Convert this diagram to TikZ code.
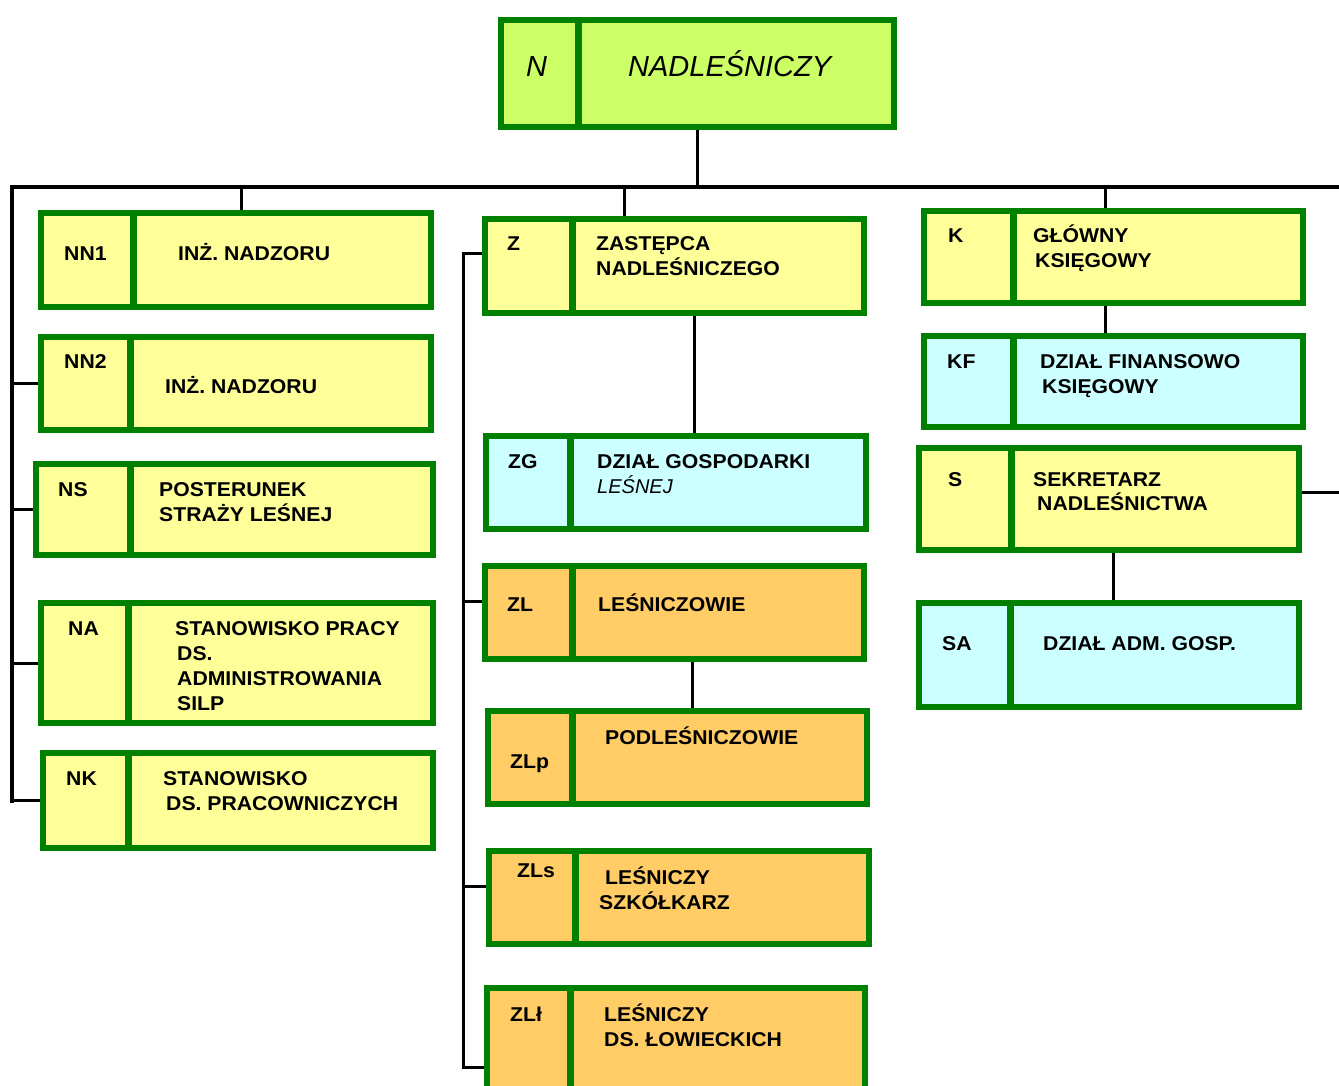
\documentclass[tikz,border=0pt]{standalone}
\usepackage{fontspec}
\setmainfont{Liberation Sans}[BoldFeatures={FakeStretch=1.06}]
\usetikzlibrary{calc}
\definecolor{grn}{HTML}{008000}
\definecolor{lime}{HTML}{CCFF66}
\definecolor{yel}{HTML}{FFFF99}
\definecolor{cyn}{HTML}{CCFFFF}
\definecolor{org}{HTML}{FFCC66}
\newcommand\orgbox[7]{%
  \node[orgframe, fill=#7, minimum width={(#4-#2-6)*1pt}, minimum height={(#5-#3-6)*1pt}]
    (#1) at ({(#2+#4)/2},{(#3+#5)/2}) {};
  \draw[divider] ({#6},{#3+3}) -- ({#6},{#5-3});
}
\begin{document}
\begin{tikzpicture}[x=1pt,y=-1pt,
  orgframe/.style={draw=grn, line width=6.5pt, rectangle, inner sep=0pt},
  divider/.style={draw=grn, line width=7pt},
  conn/.style={draw=black, line width=3pt},
  lab/.style={anchor=base west, inner sep=0pt, font=\fontsize{20}{24}\selectfont\bfseries},
  ital/.style={anchor=base west, inner sep=0pt, font=\fontsize{20}{24}\selectfont\itshape},
  big/.style={anchor=base west, inner sep=0pt, font=\fontsize{29}{34}\selectfont\itshape}]
\useasboundingbox (0,0) rectangle (1339,1086);
\fill[white] (0,0) rectangle (1339,1086);

% boxes
\orgbox{n}{498}{17}{897}{130}{578}{lime}
\orgbox{nn1}{38}{210}{434}{310}{133}{yel}
\orgbox{nn2}{38}{334}{434}{433}{130}{yel}
\orgbox{ns}{33}{461}{436}{558}{130}{yel}
\orgbox{na}{38}{600}{436}{726}{128}{yel}
\orgbox{nk}{40}{750}{436}{851}{128}{yel}
\orgbox{z}{482}{216}{867}{316}{572}{yel}
\orgbox{zg}{483}{433}{869}{532}{570}{cyn}
\orgbox{zl}{482}{563}{867}{662}{572}{org}
\orgbox{zlp}{485}{708}{870}{807}{572}{org}
\orgbox{zls}{486}{848}{872}{947}{575}{org}
\orgbox{zll}{484}{985}{868}{1096}{570}{org}
\orgbox{k}{921}{208}{1306}{306}{1013}{yel}
\orgbox{kf}{921}{333}{1306}{430}{1013}{cyn}
\orgbox{s}{916}{445}{1302}{553}{1011}{yel}
\orgbox{sa}{916}{600}{1302}{710}{1010}{cyn}

% connectors
\coordinate (busL) at (12,187);
\coordinate (busR) at (1339,187);
\coordinate (leftEnd) at (12,803);
\coordinate (midTop) at (463,254);
\coordinate (midEnd) at (463,1067);
\coordinate (sR) at (1339,492);
\draw[conn, line width=4pt] (busR) -- (busL) -- (leftEnd);
\draw[conn] (n.south) -- (n.south |- busL);
\draw[conn] (241,187) -- (241,187 |- nn1.north);
\draw[conn] (624,187) -- (624,187 |- z.north);
\draw[conn] (1105,187) -- (1105,187 |- k.north);
\draw[conn] (1105,187 |- k.south) -- (1105,187 |- kf.north);
\draw[conn] (694,0 |- z.south) -- (694,0 |- zg.north);
\draw[conn] (692,0 |- zl.south) -- (692,0 |- zlp.north);
\draw[conn] (1113,0 |- s.south) -- (1113,0 |- sa.north);
\draw[conn] (s.east |- sR) -- (sR);
\draw[conn] (12,0 |- nn2.west) -- (nn2.west);
\draw[conn] (12,0 |- ns.west) -- (ns.west);
\draw[conn] (12,0 |- na.west) -- (na.west);
\draw[conn] (12,0 |- nk.west) -- (nk.west);
\draw[conn] (z.west |- midTop) -- (midTop) -- (midEnd) -- (zll.west |- midEnd);
\draw[conn] (463,601) -- (zl.west |- 0,601);
\draw[conn] (463,886) -- (zls.west |- 0,886);

% texts
\node[big] (tN) at (526,77) {N};
\node[big] (tN2) at (628,77) {NADLEŚNICZY};

\node[lab] (t1) at (64,261) {NN1};
\node[lab] (t2) at (178,261) {INŻ. NADZORU};
\node[lab] (t3) at (64,368) {NN2};
\node[lab] (t4) at (165,393) {INŻ. NADZORU};
\node[lab] (t5) at (58,496) {NS};
\node[lab] (t6) at (159,496) {POSTERUNEK};
\node[lab] (t7) at (159,521) {STRAŻY LEŚNEJ};
\node[lab] (t8) at (68,635) {NA};
\node[lab] (t9) at (175,635) {STANOWISKO PRACY};
\node[lab] (t10) at (177,660) {DS.};
\node[lab] (t11) at (177,685) {ADMINISTROWANIA};
\node[lab] (t12) at (177,710) {SILP};
\node[lab] (t13) at (66,785) {NK};
\node[lab] (t14) at (163,785) {STANOWISKO};
\node[lab] (t15) at (166,810) {DS. PRACOWNICZYCH};

\node[lab] (t16) at (507,251) {Z};
\node[lab] (t17) at (596,251) {ZASTĘPCA};
\node[lab] (t18) at (596,276) {NADLEŚNICZEGO};
\node[lab] (t19) at (508,468) {ZG};
\node[lab] (t20) at (597,468) {DZIAŁ GOSPODARKI};
\node[ital] (t21) at (597,493) {LEŚNEJ};
\node[lab] (t22) at (507,611) {ZL};
\node[lab] (t23) at (598,611) {LEŚNICZOWIE};
\node[lab] (t24) at (510,768) {ZLp};
\node[lab] (t25) at (605,744) {PODLEŚNICZOWIE};
\node[lab] (t26) at (517,877) {ZLs};
\node[lab] (t27) at (605,884) {LEŚNICZY};
\node[lab] (t28) at (599,909) {SZKÓŁKARZ};
\node[lab] (t29) at (510,1021) {ZLł};
\node[lab] (t30) at (604,1021) {LEŚNICZY};
\node[lab] (t31) at (604,1046) {DS. ŁOWIECKICH};

\node[lab] (t32) at (948,243) {K};
\node[lab] (t33) at (1033,243) {GŁÓWNY};
\node[lab] (t34) at (1035,267) {KSIĘGOWY};
\node[lab] (t35) at (947,368) {KF};
\node[lab] (t36) at (1040,368) {DZIAŁ FINANSOWO};
\node[lab] (t37) at (1042,393) {KSIĘGOWY};
\node[lab] (t38) at (948,486) {S};
\node[lab] (t39) at (1033,486) {SEKRETARZ};
\node[lab] (t40) at (1037,510) {NADLEŚNICTWA};
\node[lab] (t41) at (942,650) {SA};
\node[lab] (t42) at (1043,650) {DZIAŁ ADM. GOSP.};
\end{tikzpicture}
\end{document}
